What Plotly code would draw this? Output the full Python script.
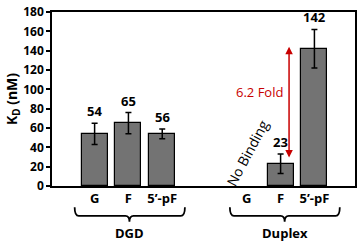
import plotly.graph_objects as go

categories = ["G", "F", "5\u2019-pF", "G", "F", "5\u2019-pF"]
groups = ["DGD", "DGD", "DGD", "Duplex", "Duplex", "Duplex"]
kd_values = [54, 65, 54, None, 23, 142]
kd_errors = [11, 11, 5, None, 10, 20]
value_labels = ["54", "65", "56", "", "23", "142"]
positions = [0, 1, 2, 4.5, 5.5, 6.5]
y_ticks = [0, 20, 40, 60, 80, 100, 120, 140, 160, 180]

FONT = "Open Sans"
bar_mask = [v is not None for v in kd_values]
bx = [p for p, m in zip(positions, bar_mask) if m]
by = [v for v, m in zip(kd_values, bar_mask) if m]
be = [e for e, m in zip(kd_errors, bar_mask) if m]

fig = go.Figure()
fig.add_trace(go.Bar(
    x=bx, y=by, width=0.77,
    marker=dict(color="rgb(115,115,115)", line=dict(color="black", width=1.2)),
    error_y=dict(type="data", array=be, visible=True, color="black", thickness=1.5, width=3),
))

ann = []
for p, v, e, lab in zip(positions, kd_values, kd_errors, value_labels):
    if v is None:
        continue
    ann.append(dict(x=p, y=v + e, xref="x", yref="y", text="<b>%s</b>" % lab, showarrow=False,
                    yanchor="bottom", yshift=1, font=dict(family=FONT, size=13, color="black")))

# fold-change arrow
ann.append(dict(x=5.75, y=144, ax=5.75, ay=28, xref="x", yref="y", axref="x", ayref="y",
                text="", showarrow=True, arrowhead=2, startarrowhead=2, arrowside="end+start",
                arrowsize=1, arrowwidth=1.5, arrowcolor="rgb(200,0,0)"))
ann.append(dict(x=5.62, y=97, xref="x", yref="y", text="6.2 Fold", showarrow=False,
                xanchor="right", font=dict(family=FONT, size=13, color="rgb(200,0,0)")))
ann.append(dict(x=4.5, y=34, xref="x", yref="y", text="No Binding", showarrow=False,
                textangle=-62, font=dict(family=FONT, size=14, color="black")))

# group labels + braces
shapes = []
brace_spans = {"DGD": (-0.59, 2.67, 1.03), "Duplex": (4.0, 7.25, 5.62)}
yt, yh, ytip = -0.122, -0.172, -0.205
for g, (x0, x1, xm) in brace_spans.items():
    d = 0.12
    path = (f"M {x0},{yt} Q {x0},{yh} {x0+d},{yh} L {xm-d},{yh} Q {xm},{yh} {xm},{ytip} "
            f"Q {xm},{yh} {xm+d},{yh} L {x1-d},{yh} Q {x1},{yh} {x1},{yt}")
    shapes.append(dict(type="path", path=path, xref="x", yref="paper",
                       line=dict(color="black", width=1.8)))
    ann.append(dict(x=xm, y=-0.272, xref="x", yref="paper", text="<b>%s</b>" % g, showarrow=False,
                    yanchor="middle", font=dict(family=FONT, size=13, color="black")))

fig.update_layout(
    width=360, height=243,
    margin=dict(l=52, r=3, t=6, b=57),
    paper_bgcolor="white", plot_bgcolor="white",
    showlegend=False, bargap=0,
    annotations=ann, shapes=shapes,
    font=dict(family=FONT, color="black"),
    xaxis=dict(range=[-1.26, 7.7], tickvals=positions, ticktext=["<b>%s</b>" % c for c in categories],
               showline=True, linecolor="black", linewidth=1.5, mirror=True, ticks="",
               showgrid=False, zeroline=False, tickfont=dict(family=FONT, size=13, color="black")),
    yaxis=dict(range=[0, 180], tickvals=y_ticks, ticktext=["<b>%d</b>" % t for t in y_ticks],
               showline=True, linecolor="black", linewidth=1.5, mirror=True, ticks="outside",
               ticklen=4, tickwidth=1.5, tickcolor="black", showgrid=False, zeroline=False,
               ticklabeloverflow="allow",
               tickfont=dict(family=FONT, size=12, color="black"),
               title=dict(text="<b>K<sub>D</sub> (nM)</b>", font=dict(family=FONT, size=14, color="black"),
                          standoff=2)),
)

fig.write_html("out.html")
